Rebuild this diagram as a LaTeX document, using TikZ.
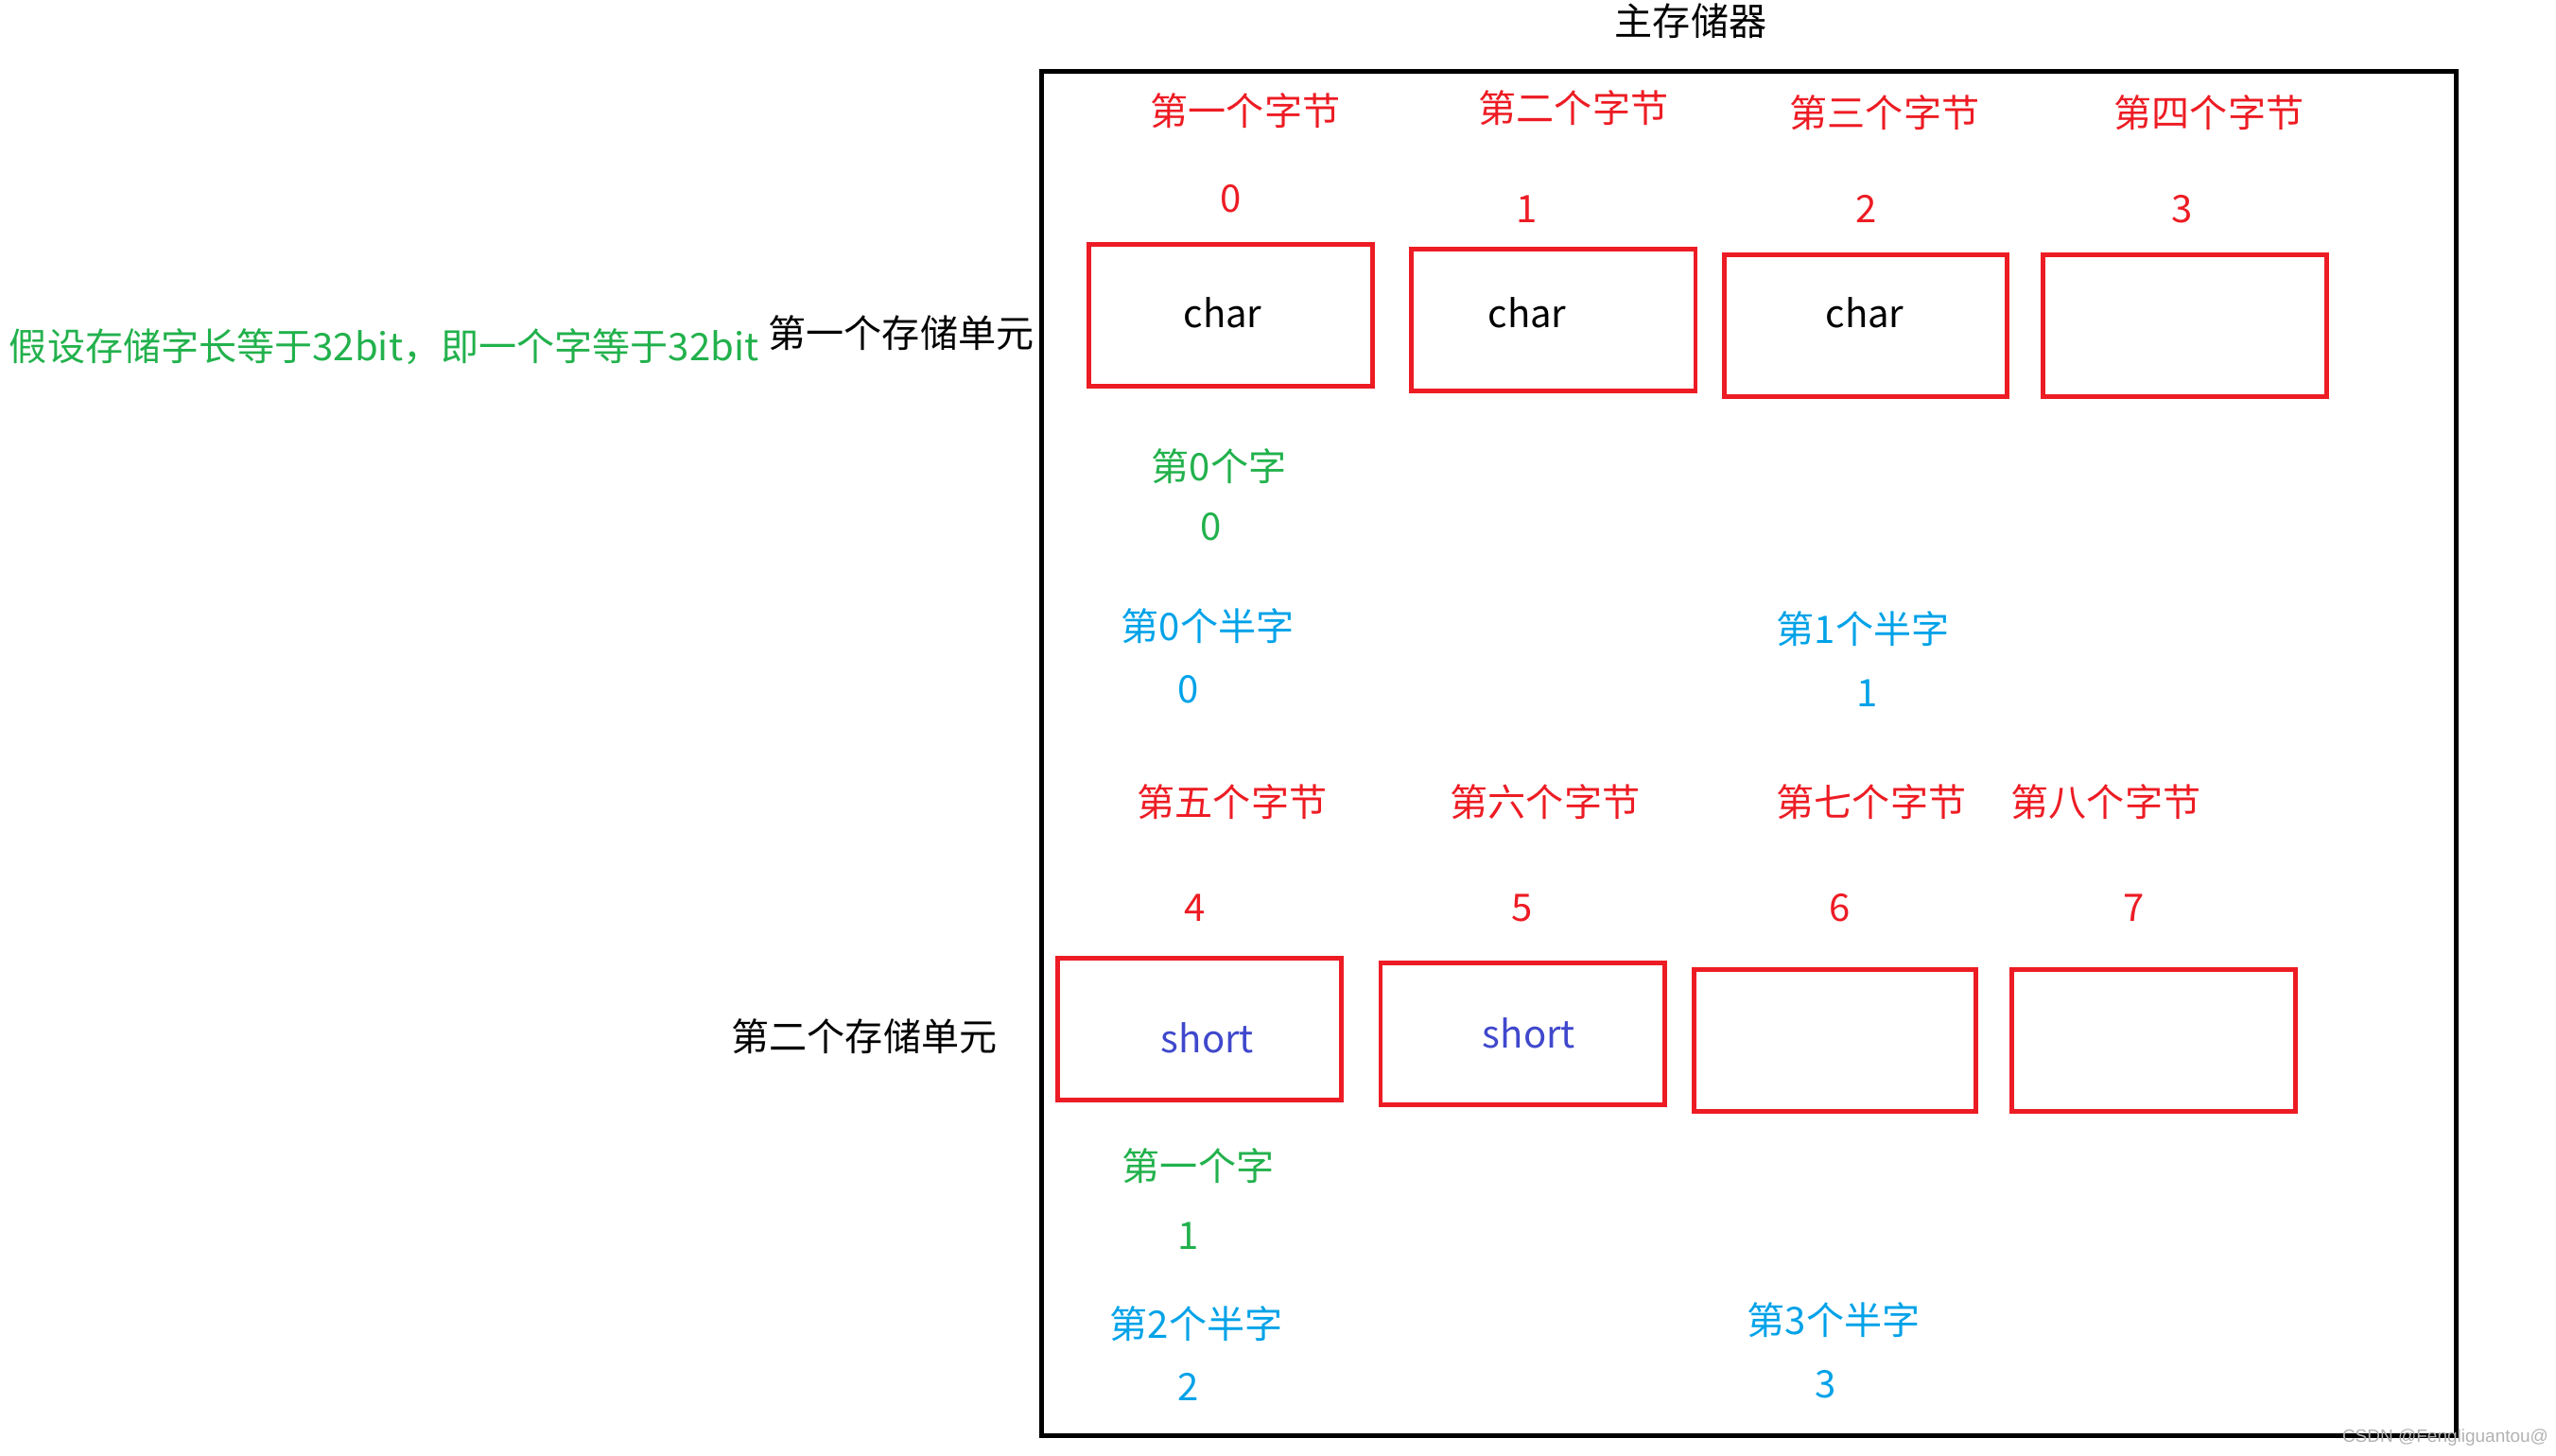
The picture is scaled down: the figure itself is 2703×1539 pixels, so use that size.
\documentclass[tikz,border=0pt]{standalone}
\usepackage{fontspec}
\setmainfont{Noto Sans CJK SC}
\newfontfamily\wmfont{Liberation Sans}
\definecolor{cred}{HTML}{ED1C24}
\definecolor{cgreen}{HTML}{22B14C}
\definecolor{cblue}{HTML}{00A2E8}
\definecolor{cindigo}{HTML}{3F48CC}
\begin{document}
\begin{tikzpicture}[x=0.01cm,y=-0.01cm,
  every node/.style={inner sep=0pt,outer sep=0pt,font=\fontsize{11.4pt}{13pt}\selectfont},
  cell/.style={draw=cred,line width=1.4pt,minimum width=3cm,minimum height=1.5cm},
  redtxt/.style={text=cred},
  greentxt/.style={text=cgreen},
  bluetxt/.style={text=cblue},
  blacktxt/.style={text=black},
  shorttxt/.style={text=cindigo}]
\useasboundingbox (0,0) rectangle (2703,1539);
% outer memory frame
\coordinate (memtl) at (1101.6,75.9);
\coordinate (membr) at (2597.9,1518.8);
\draw[black,line width=1.45pt] (memtl) rectangle (membr);
\node[blacktxt] (title) at (1788,22) {主存储器};
% row 1 boxes
\node[cell] (b0) at (1301.5,333.6) {};
\node[cell] (b1) at (1642.9,338.8) {};
\node[cell,minimum width=2.98cm] (b2) at (1973,344.8) {};
\node[cell] (b3) at (2310.1,344.8) {};
\node[blacktxt] (c0) at (1293,331) {char};
\node[blacktxt] (c1) at (1615,331) {char};
\node[blacktxt] (c2) at (1972,331) {char};
% row 1 headers
\node[redtxt] (h0) at (1317,117) {第一个字节};
\node[redtxt] (h1) at (1664,114) {第二个字节};
\node[redtxt] (h2) at (1993,119) {第三个字节};
\node[redtxt] (h3) at (2336,119) {第四个字节};
\node[redtxt] (n0) at (1302,210) {0};
\node[redtxt] (n1) at (1615,221) {1};
\node[redtxt] (n2) at (1974,221) {2};
\node[redtxt] (n3) at (2308,221) {3};
% word / halfword labels row 1
\node[greentxt] (w0) at (1289,493) {第0个字};
\node[greentxt] (w0n) at (1281,557) {0};
\node[bluetxt] (hw0) at (1277,662) {第0个半字};
\node[bluetxt] (hw0n) at (1257,729) {0};
\node[bluetxt] (hw1) at (1970,665) {第1个半字};
\node[bluetxt] (hw1n) at (1975,733) {1};
% row 2 headers
\node[redtxt] (h4) at (1303,848) {第五个字节};
\node[redtxt] (h5) at (1634,848) {第六个字节};
\node[redtxt] (h6) at (1979,848) {第七个字节};
\node[redtxt] (h7) at (2227,848) {第八个字节};
\node[redtxt] (n4) at (1264,960) {4};
\node[redtxt] (n5) at (1610,960) {5};
\node[redtxt] (n6) at (1946,960) {6};
\node[redtxt] (n7) at (2257,960) {7};
% row 2 boxes
\node[cell] (b4) at (1268.8,1088.7) {};
\node[cell] (b5) at (1610.1,1093.8) {};
\node[cell,minimum width=2.98cm] (b6) at (1940.2,1100.7) {};
\node[cell] (b7) at (2277.3,1100.7) {};
\node[shorttxt] (s4) at (1277,1098) {short};
\node[shorttxt] (s5) at (1617,1093) {short};
% word / halfword labels row 2
\node[greentxt] (w1) at (1267,1233) {第一个字};
\node[greentxt] (w1n) at (1257,1307) {1};
\node[bluetxt] (hw2) at (1265,1400) {第2个半字};
\node[bluetxt] (hw2n) at (1257,1467) {2};
\node[bluetxt] (hw3) at (1939,1396) {第3个半字};
\node[bluetxt] (hw3n) at (1931,1464) {3};
% side labels
\node[blacktxt] (u1) at (953,352) {第一个存储单元};
\node[blacktxt] (u2) at (914,1096) {第二个存储单元};
\node[greentxt,anchor=west] (note) at (10,367) {假设存储字长等于32bit，即一个字等于32bit};
% watermark
\node[text=black!30,font=\wmfont\fontsize{5.4pt}{6pt}\selectfont,anchor=west] (wm) at (2477,1521) {CSDN @Fengliguantou@};
\end{tikzpicture}
\end{document}
